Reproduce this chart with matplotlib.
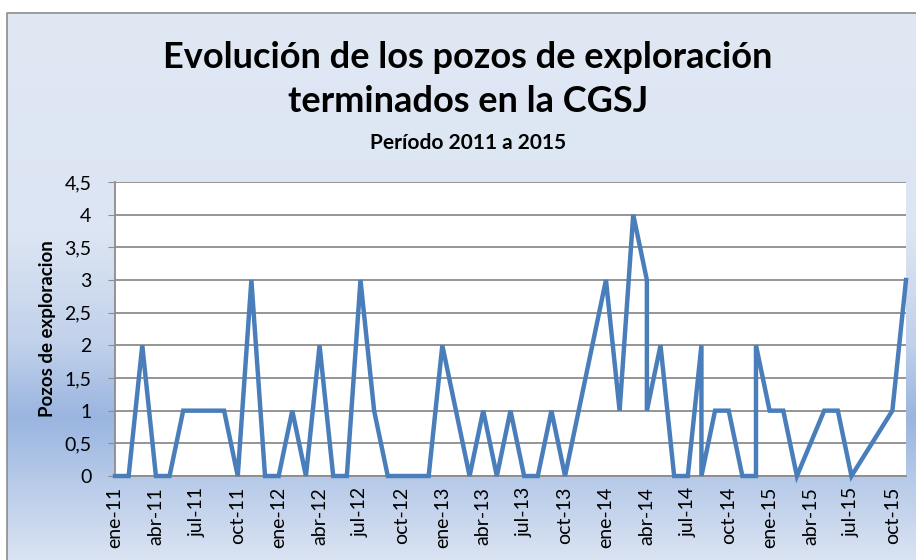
import numpy as np
import matplotlib
matplotlib.use("Agg")
import matplotlib.pyplot as plt
from matplotlib.colors import LinearSegmentedColormap

# ---- data ----
fechas = ["2011-01", "2011-02", "2011-03", "2011-04", "2011-05", "2011-06",
          "2011-07", "2011-08", "2011-09", "2011-10", "2011-11", "2011-12",
          "2012-01", "2012-02", "2012-03", "2012-04", "2012-05", "2012-06",
          "2012-07", "2012-08", "2012-09", "2012-10", "2012-11", "2012-12",
          "2013-01", "2013-02", "2013-03", "2013-04", "2013-05", "2013-06",
          "2013-07", "2013-08", "2013-09", "2013-10", "2013-11", "2013-12",
          "2014-01", "2014-02", "2014-03", "2014-04", "2014-04", "2014-05",
          "2014-06", "2014-07", "2014-08", "2014-08", "2014-09", "2014-10",
          "2014-11", "2014-12", "2014-12", "2015-01", "2015-02", "2015-03",
          "2015-05", "2015-06", "2015-07", "2015-10", "2015-11"]
pozos = [0, 0, 2, 0, 0, 1, 1, 1, 1, 0, 3, 0,
         0, 1, 0, 2, 0, 0, 3, 1, 0, 0, 0, 0,
         2, 1, 0, 1, 0, 1, 0, 0, 1, 0, 1, 2,
         3, 1, 4, 3, 1, 2, 0, 0, 2, 0, 1, 1,
         0, 0, 2, 1, 1, 0, 1, 1, 0, 1, 3]
meses = ["ene", "feb", "mar", "abr", "may", "jun",
         "jul", "ago", "sep", "oct", "nov", "dic"]
yticks = [0, 0.5, 1, 1.5, 2, 2.5, 3, 3.5, 4, 4.5]

# month index since ene-11
x = [(int(f[:4]) - 2011) * 12 + int(f[5:]) - 1 for f in fechas]
tick_pos = list(range(0, max(x) + 1, 3))
tick_lab = [f"{meses[p % 12]}-{11 + p // 12}" for p in tick_pos]

plt.rcParams['font.family'] = ['Lato', 'DejaVu Sans']

W, H = 916, 560
fig = plt.figure(figsize=(W / 100, H / 100), dpi=100)

# background gradient
bg = fig.add_axes([0, 0, 1, 1])
bg.set_xlim(0, W)
bg.set_ylim(H, 0)
bg.axis("off")
cmap = LinearSegmentedColormap.from_list(
    "g", [(0.0, "#E0E8F4"), (0.40, "#DCE5F3"), (0.60, "#C2D2EB"),
          (0.74, "#9AB5E0"), (0.86, "#B8CBE9"), (1.0, "#DAE3F2")])
grad = np.linspace(0, 1, 256).reshape(-1, 1)
bg.imshow(grad, cmap=cmap, aspect="auto", extent=[7, W + 2, H, 13], zorder=0)
bg.plot([7, 7, W], [H, 13, 13], color="#8C8C8C", lw=1.2, zorder=1)

# titles
fig.text(468 / W, 1 - 57 / H, "Evolución de los pozos de exploración",
         ha="center", va="center", fontsize=26, fontweight="bold")
fig.text(468 / W, 1 - 102 / H, "terminados en la CGSJ",
         ha="center", va="center", fontsize=26, fontweight="bold")
fig.text(468 / W, 1 - 143 / H, "Período 2011 a 2015",
         ha="center", va="center", fontsize=15, fontweight="bold")

ax = fig.add_axes([115 / W, 1 - 476 / H, (906 - 115) / W, (476 - 182) / H])
ax.set_facecolor("white")
ax.plot(x, pozos, color="#4A7EBB", lw=3.2, solid_joinstyle="miter", zorder=3,
        clip_on=False)
ax.set_xlim(0, max(x))
ax.set_ylim(0, 4.5)
ax.set_yticks(yticks)
ax.set_yticklabels([f"{v:g}".replace(".", ",") for v in yticks], fontsize=14)
ax.yaxis.grid(True, color="#8C8C8C", lw=1.3)
ax.set_xticks(tick_pos)
ax.set_xticklabels(tick_lab, rotation=90, fontsize=14)
ax.tick_params(axis="x", length=0, pad=8)
ax.tick_params(axis="y", length=5, color="#8C8C8C", pad=12)
for s in ["top", "right"]:
    ax.spines[s].set_visible(False)
for s in ["left", "bottom"]:
    ax.spines[s].set_color("#8C8C8C")
    ax.spines[s].set_linewidth(1.3)
ax.set_ylabel("Pozos de exploracion", fontsize=13.5, fontweight="bold", labelpad=6)

fig.savefig("out.png", dpi=100)
